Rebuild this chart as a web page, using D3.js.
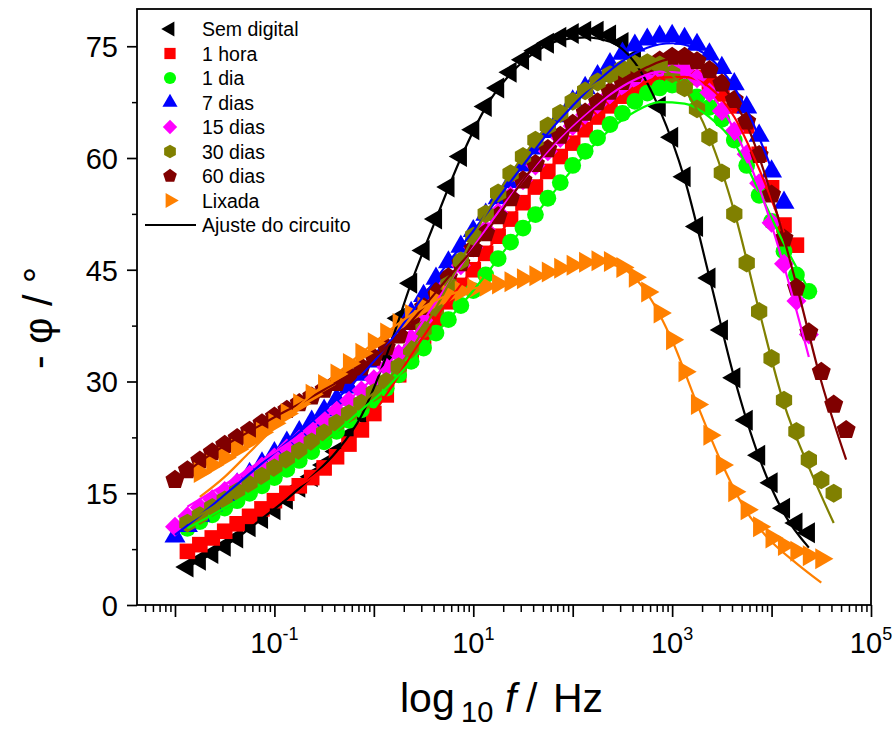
<!DOCTYPE html>
<html><head><meta charset="utf-8">
<script src="https://cdn.jsdelivr.net/npm/d3@7/dist/d3.min.js"></script>
<style>
body{margin:0;background:#fff}
svg{display:block}
text{font-family:"Liberation Sans",Arial,sans-serif;fill:#000}
</style></head>
<body><svg id="chart" width="895" height="731"></svg>
<script>
// ---------------- DATA ----------------
// frequencies: log10(f) = k / pointsPerDecade, k starting at each series' start index
const pointsPerDecade = 8;
const fitStep = 2; // fit curves sampled every 2 frequency steps
const seriesNames = ["Sem digital","1 hora","1 dia","7 dias","15 dias","30 dias","60 dias","Lixada"];
const seriesColors = ["#000000","#ff0000","#00ff00","#0000ff","#ff00ff","#808000","#800000","#ff8000"];
const seriesShapes = ["triangleLeft","square","circle","triangleUp","diamond","hexagon","pentagon","triangleRight"];
const seriesStart = [-15,-15,-15,-16,-16,-15,-16,-14];
const fitLabel = "Ajuste do circuito";

const phaseSemDigital = [5.1,6.0,6.9,7.9,9.0,10.5,11.6,12.8,14.2,15.8,17.2,18.8,20.6,22.8,25.4,
  28.8,33.4,38.5,43.2,47.6,51.8,56.1,60.2,63.8,66.9,69.4,71.5,73.2,74.4,75.4,76.2,76.7,77.0,77.0,76.5,
  75.5,73.5,70.5,66.9,62.8,57.5,50.8,43.9,36.9,30.5,24.8,20.1,16.4,13.0,11.0,9.7];
const phase1Hora = [7.2,8.1,9.0,9.9,10.9,11.9,12.9,14.0,15.0,16.0,17.1,18.4,19.9,21.6,23.5,
  25.7,28.2,30.9,33.5,36.0,38.4,40.7,42.9,45.0,47.2,49.5,51.8,54.0,56.1,58.2,60.2,62.0,63.8,65.5,67.0,
  68.3,69.5,70.4,71.0,71.3,71.2,70.8,70.0,68.6,67.0,64.3,60.5,56.0,51.0,48.3];
const phase1Dia = [10.3,11.2,12.1,13.0,14.0,15.0,16.0,17.1,18.2,19.4,20.6,21.9,23.3,24.8,26.2,
  27.5,29.1,30.9,32.7,34.5,36.5,38.3,40.2,42.2,44.3,46.5,48.7,50.6,52.4,54.6,56.7,59.0,60.9,62.7,64.5,
  66.0,67.6,68.7,69.4,69.8,69.5,68.2,66.8,65.2,62.4,59.0,55.0,51.5,47.5,44.3,42.1];
const phase7Dias = [9.2,10.6,12.0,13.4,14.8,16.2,17.6,19.0,20.4,21.8,23.2,24.6,26.1,27.6,29.2,30.9,
  32.7,34.7,36.9,39.2,41.5,43.8,46.0,48.1,50.2,52.4,54.6,56.8,59.0,61.3,63.5,65.6,67.6,69.4,71.0,72.6,
  74.0,75.1,75.9,76.3,76.4,76.0,75.2,73.9,72.1,69.9,66.8,63.0,58.2,54.0];
const phase15Dias = [10.5,11.9,13.1,14.2,15.3,16.4,17.5,18.6,19.8,21.0,22.2,23.5,24.8,26.1,27.4,28.8,
  30.3,31.9,33.7,35.8,38.2,40.7,43.2,45.6,48.0,50.4,52.7,54.9,57.0,59.0,60.9,62.7,64.3,65.8,67.2,68.5,
  69.6,70.6,71.4,71.9,72.1,71.8,70.7,68.8,66.3,63.6,60.5,56.6,51.3,45.8,40.8,36.3];
const phase30Dias = [11.0,12.0,13.1,14.1,15.2,16.2,17.3,18.4,19.5,20.7,21.9,23.1,24.4,25.7,27.1,
  28.5,30.0,32.0,34.3,37.0,39.9,43.0,46.2,49.5,52.5,55.3,57.9,60.2,62.4,64.3,66.0,67.6,69.0,70.2,71.2,
  72.0,72.6,72.8,72.5,71.3,69.4,66.6,62.8,58.0,52.5,45.9,39.4,33.1,27.5,23.3,19.5,16.8,15.0];
const phase60Dias = [16.8,18.1,19.4,20.5,21.5,22.4,23.4,24.4,25.3,26.2,27.1,28.0,28.9,29.8,30.8,31.9,
  33.2,34.6,36.2,38.0,40.0,42.0,44.0,45.9,47.8,49.9,52.2,54.6,57.0,59.2,61.2,63.0,64.6,66.1,67.5,68.9,
  70.2,71.3,72.3,73.1,73.6,73.6,73.0,71.8,70.0,67.8,64.9,60.4,55.1,49.2,42.6,36.6,31.3,26.9,23.5];
const phaseLixada = [17.8,18.8,19.8,20.9,22.0,23.2,24.4,25.7,27.0,28.3,29.6,31.0,32.4,33.8,
  35.2,36.5,37.8,39.0,40.0,40.9,41.6,42.1,42.5,42.8,43.1,43.4,43.8,44.2,44.7,45.2,45.6,46.0,46.2,46.1,
  45.3,44.0,42.0,39.2,35.6,31.3,26.9,22.8,18.8,15.2,12.8,10.5,9.0,8.0,7.2,6.6,6.2];

// fitted circuit curves (every 2 frequency steps from each fit's start index)
const fitStart = [-15,-15,-15,-16,-15,-15,-16,-14];
const fitSemDigital = [5.1,6.9,9.0,11.6,14.2,17.2,20.6,25.4,33.4,43.2,51.8,60.0,66.8,71.3,74.2,75.8,
  76.2,75.6,72.8,66.5,57.2,44.0,30.5,19.8,12.3,7.7];
const fit1Hora = [7.2,9.0,10.9,12.9,15.0,17.1,19.9,23.5,28.2,33.5,38.5,43.0,47.3,51.8,56.2,60.2,63.8,
  67.0,69.4,70.8,70.9,69.5,65.5,58.5,50.0];
const fit1Dia = [10.3,12.1,14.0,16.0,18.2,20.6,23.3,26.2,29.1,32.7,36.5,40.2,44.3,48.6,52.4,56.5,60.5,
  63.8,66.2,67.5,67.3,65.5,62.0,55.5,48.5,42.3];
const fit7Dias = [9.4,12.0,14.8,17.6,20.4,23.2,26.1,29.2,32.7,36.9,41.5,46.0,50.2,54.6,59.0,63.3,67.0,
  70.3,73.0,74.8,75.4,74.6,71.8,66.5,58.5];
const fit15Dias = [13.2,15.2,17.2,19.4,21.6,23.9,26.3,29.0,32.2,35.8,40.7,45.6,50.4,54.9,59.0,62.7,
  65.8,68.5,70.5,71.6,71.4,68.8,63.8,56.0,45.5,33.3];
const fit30Dias = [11.0,13.1,15.2,17.3,19.5,21.9,24.4,27.1,30.0,34.3,39.9,46.2,52.5,57.9,62.4,66.0,
  69.0,71.0,72.2,72.0,69.2,62.8,52.8,39.5,27.0,18.5,11.0];
const fit60Dias = [16.5,19.2,21.4,23.3,25.2,27.0,28.9,30.8,33.2,36.2,40.0,44.0,47.8,52.2,57.0,61.2,
  64.6,67.5,70.2,72.2,73.3,72.8,69.8,64.5,55.0,43.0,30.0,19.5];
const fitLixada = [14.5,17.2,20.5,23.8,26.8,29.6,32.4,35.2,37.8,40.0,41.6,42.5,43.0,43.7,44.6,45.5,
  46.0,45.2,41.8,35.5,27.0,19.0,12.5,8.5,5.6,3.0];

const xTickExponents = [-2,-1,0,1,2,3,4,5];
const xLabelExponents = [-1,1,3,5];
const yMajorTicks = [0,15,30,45,60,75];
const yMinorTicks = [7.5,22.5,37.5,52.5,67.5];
const xDomain = [Math.pow(10,-2.382), 1e5];
const yDomain = [0, 80];

// ---------------- CHART ----------------
const phaseData = [phaseSemDigital,phase1Hora,phase1Dia,phase7Dias,phase15Dias,phase30Dias,phase60Dias,phaseLixada];
const fitData = [fitSemDigital,fit1Hora,fit1Dia,fit7Dias,fit15Dias,fit30Dias,fit60Dias,fitLixada];

const series = seriesNames.map((name,i)=>({
  name, color:seriesColors[i], shape:seriesShapes[i],
  points: phaseData[i].map((v,j)=>({f:Math.pow(10,(seriesStart[i]+j)/pointsPerDecade), v})),
  fit: fitData[i].map((v,j)=>({f:Math.pow(10,(fitStart[i]+j*fitStep)/pointsPerDecade), v}))
}));

const svg = d3.select("#chart");
const L=137, R=871, T=9, B=605;
const x = d3.scaleLog().domain(xDomain).range([L,R]);
const y = d3.scaleLinear().domain(yDomain).range([B,T]);

function shapePath(shape, s){
  const p = d3.path();
  const poly = pts => { p.moveTo(pts[0][0],pts[0][1]); pts.slice(1).forEach(q=>p.lineTo(q[0],q[1])); p.closePath(); };
  const tri = (side, ang) => { // centroid-anchored, apex direction ang (radians)
    const r = side/Math.sqrt(3);
    poly([0,1,2].map(k=>{const a=ang+k*2*Math.PI/3; return [r*Math.cos(a), r*Math.sin(a)];}));
  };
  switch(shape){
    case "square": { const h=7.8*s; poly([[-h,-h],[h,-h],[h,h],[-h,h]]); break; }
    case "circle": p.moveTo(8.4*s,0); p.arc(0,0,8.4*s,0,2*Math.PI); break;
    case "triangleUp": tri(21*s, -Math.PI/2); break;
    case "triangleLeft": tri(21*s, Math.PI); break;
    case "triangleRight": tri(21*s, 0); break;
    case "diamond": { const h=10*s; poly([[0,-h],[h,0],[0,h],[-h,0]]); break; }
    case "hexagon": { const r=9.4*s; poly(d3.range(6).map(k=>{const a=-Math.PI/2+k*Math.PI/3; return [r*Math.cos(a), r*Math.sin(a)];})); break; }
    case "pentagon": { const r=10*s; poly(d3.range(5).map(k=>{const a=-Math.PI/2+k*2*Math.PI/5; return [r*Math.cos(a), r*Math.sin(a)];})); break; }
  }
  return p.toString();
}

svg.append("clipPath").attr("id","clip").append("rect").attr("x",L).attr("y",T).attr("width",R-L).attr("height",B-T);

// markers
const markerOrder = [0,1,2,3,4,6,5,7];
const gM = svg.append("g").attr("clip-path","url(#clip)");
markerOrder.forEach(i=>{
  const s = series[i];
  gM.append("g").selectAll("path").data(s.points).join("path")
    .attr("d", shapePath(s.shape,1))
    .attr("transform", d=>`translate(${x(d.f)},${y(d.v)})`)
    .attr("fill", s.color);
});
// fit lines
const line = d3.line().x(d=>x(d.f)).y(d=>y(d.v)).curve(d3.curveMonotoneX);
const gL = svg.append("g").attr("clip-path","url(#clip)");
[0,1,2,3,4,5,6,7].forEach(i=>{
  gL.append("path").datum(series[i].fit).attr("d",line)
    .attr("fill","none").attr("stroke",series[i].color).attr("stroke-width",2.2);
});

// frame
svg.append("rect").attr("x",L).attr("y",T).attr("width",R-L).attr("height",B-T)
  .attr("fill","none").attr("stroke","#000").attr("stroke-width",1.8);

// x axis ticks
const xMajor = xTickExponents.map(e=>Math.pow(10,e));
const xMinor = [];
for(let e=-3;e<5;e++) for(let m=2;m<=9;m++){ const v=m*Math.pow(10,e); if(v>=xDomain[0] && v<=xDomain[1]) xMinor.push(v); }
const gx = svg.append("g").attr("transform",`translate(0,${B})`);
gx.append("g").call(d3.axisBottom(x).tickValues(xMinor).tickSize(7).tickFormat(""))
  .call(g=>{g.select(".domain").remove(); g.selectAll("line").attr("stroke-width",1.5);});
gx.append("g").call(d3.axisBottom(x).tickValues(xMajor).tickSize(12).tickFormat(""))
  .call(g=>{g.select(".domain").remove(); g.selectAll("line").attr("stroke-width",1.7);});
xLabelExponents.forEach(e=>{
  const t = svg.append("text").attr("x",x(Math.pow(10,e))).attr("y",653).attr("text-anchor","middle")
    .attr("font-size",29);
  t.append("tspan").text("10");
  t.append("tspan").attr("dy",-13).attr("font-size",18).text(String(e));
});

// y axis ticks
const gy = svg.append("g").attr("transform",`translate(${L},0)`);
gy.append("g").call(d3.axisLeft(y).tickValues(yMinorTicks).tickSize(5).tickFormat(""))
  .call(g=>{g.select(".domain").remove(); g.selectAll("line").attr("stroke-width",1.5);});
gy.append("g").call(d3.axisLeft(y).tickValues(yMajorTicks).tickSize(10).tickFormat(d=>d))
  .call(g=>{g.select(".domain").remove(); g.selectAll("line").attr("stroke-width",1.7);
    g.selectAll("text").attr("font-size",29).attr("font-family","Liberation Sans, Arial, sans-serif").attr("x",-19).attr("dy","0.36em");});

// axis titles
const xt = svg.append("text").attr("y",712).attr("font-size",41);
xt.append("tspan").attr("x",400).text("log");
xt.append("tspan").attr("x",461).attr("dy",10).attr("font-size",29).text("10");
xt.append("tspan").attr("x",505).attr("dy",-10).attr("font-style","italic").text("f");
xt.append("tspan").attr("x",526).text("/");
xt.append("tspan").attr("x",553).text("Hz");
svg.append("text").attr("transform","translate(52,318) rotate(-90)").attr("text-anchor","middle")
  .attr("font-size",41).text("- \u03c6 / \u00b0");

// legend
const lg = svg.append("g");
series.forEach((s,i)=>{
  const yy = 29 + i*24.5;
  lg.append("path").attr("d",shapePath(s.shape,0.72)).attr("transform",`translate(170,${yy})`).attr("fill",s.color);
  lg.append("text").attr("x",202).attr("y",yy).attr("dy","0.36em").attr("font-size",19.5).text(s.name);
});
const ly = 29 + 8*24.5;
lg.append("line").attr("x1",145).attr("x2",196).attr("y1",ly).attr("y2",ly).attr("stroke","#000").attr("stroke-width",2.2);
lg.append("text").attr("x",202).attr("y",ly).attr("dy","0.36em").attr("font-size",19.5).text(fitLabel);
</script></body></html>
